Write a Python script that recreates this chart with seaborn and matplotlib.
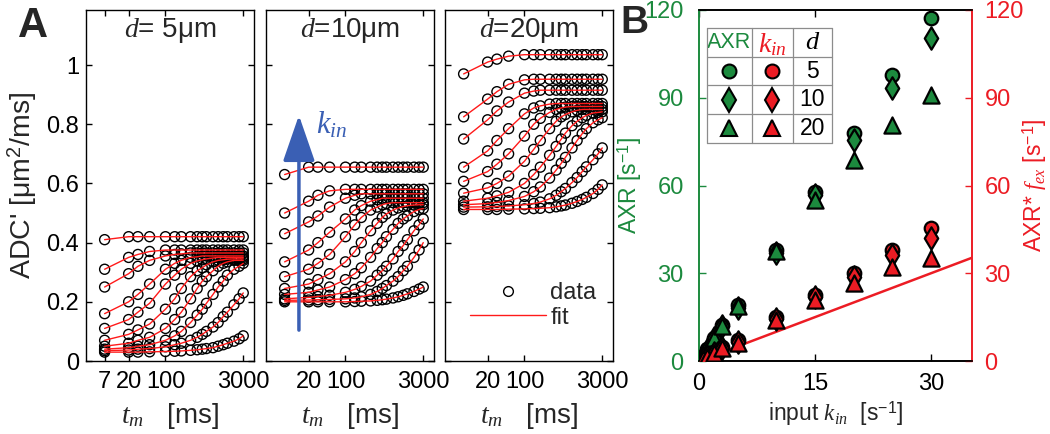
import matplotlib
matplotlib.use("Agg")
import matplotlib.pyplot as plt
import seaborn as sns
import pandas as pd
from matplotlib.lines import Line2D
from matplotlib.ticker import NullLocator, FixedLocator, FixedFormatter

# ---------------- data ----------------
TM = [7, 20, 30, 50, 100, 150, 200, 300, 400, 500, 600, 800, 1000, 1250, 1500, 2000, 2500, 3000]

ADC_D5 = [
    [0.41, 0.42, 0.42, 0.42, 0.42, 0.42, 0.42, 0.42, 0.42, 0.42, 0.42, 0.42, 0.42, 0.42, 0.42, 0.42, 0.42, 0.42],
    [0.31, 0.35, 0.36, 0.37, 0.375, 0.375, 0.375, 0.375, 0.375, 0.375, 0.375, 0.375, 0.375, 0.375, 0.375, 0.375, 0.375, 0.375],
    [0.25, 0.295, 0.32, 0.34, 0.355, 0.36, 0.362, 0.365, 0.365, 0.365, 0.365, 0.365, 0.365, 0.365, 0.365, 0.365, 0.365, 0.365],
    [0.16, 0.20, 0.225, 0.26, 0.31, 0.33, 0.34, 0.35, 0.352, 0.355, 0.355, 0.355, 0.355, 0.355, 0.355, 0.355, 0.355, 0.355],
    [0.11, 0.14, 0.165, 0.195, 0.26, 0.29, 0.31, 0.33, 0.338, 0.342, 0.345, 0.348, 0.35, 0.35, 0.35, 0.35, 0.35, 0.35],
    [0.07, 0.09, 0.105, 0.125, 0.175, 0.21, 0.245, 0.285, 0.305, 0.315, 0.325, 0.335, 0.34, 0.342, 0.344, 0.345, 0.345, 0.345],
    [0.05, 0.06, 0.07, 0.08, 0.11, 0.14, 0.165, 0.21, 0.245, 0.27, 0.285, 0.305, 0.32, 0.33, 0.335, 0.34, 0.34, 0.34],
    [0.04, 0.045, 0.05, 0.055, 0.07, 0.085, 0.10, 0.13, 0.155, 0.175, 0.195, 0.225, 0.25, 0.27, 0.29, 0.31, 0.32, 0.33],
    [0.035, 0.037, 0.04, 0.042, 0.048, 0.055, 0.06, 0.07, 0.08, 0.09, 0.10, 0.115, 0.13, 0.15, 0.165, 0.19, 0.21, 0.23],
    [0.03, 0.03, 0.03, 0.031, 0.032, 0.033, 0.034, 0.036, 0.038, 0.04, 0.042, 0.045, 0.05, 0.055, 0.06, 0.067, 0.075, 0.085],
]

ADC_D10 = [
    [0.63, 0.655, 0.655, 0.655, 0.655, 0.655, 0.655, 0.655, 0.655, 0.655, 0.655, 0.655, 0.655, 0.655, 0.655, 0.655, 0.655, 0.655],
    [0.50, 0.54, 0.56, 0.575, 0.58, 0.58, 0.58, 0.58, 0.58, 0.58, 0.58, 0.58, 0.58, 0.58, 0.58, 0.58, 0.58, 0.58],
    [0.43, 0.47, 0.49, 0.52, 0.55, 0.56, 0.565, 0.565, 0.565, 0.565, 0.565, 0.565, 0.565, 0.565, 0.565, 0.565, 0.565, 0.565],
    [0.335, 0.375, 0.40, 0.435, 0.48, 0.51, 0.525, 0.54, 0.545, 0.55, 0.55, 0.55, 0.55, 0.55, 0.55, 0.55, 0.55, 0.55],
    [0.285, 0.31, 0.33, 0.36, 0.42, 0.46, 0.485, 0.51, 0.52, 0.528, 0.532, 0.535, 0.535, 0.535, 0.535, 0.535, 0.535, 0.535],
    [0.245, 0.26, 0.275, 0.295, 0.335, 0.37, 0.40, 0.44, 0.465, 0.485, 0.497, 0.51, 0.517, 0.522, 0.525, 0.527, 0.528, 0.528],
    [0.225, 0.232, 0.24, 0.25, 0.275, 0.295, 0.315, 0.35, 0.38, 0.40, 0.42, 0.445, 0.465, 0.48, 0.49, 0.505, 0.512, 0.515],
    [0.21, 0.215, 0.218, 0.222, 0.232, 0.242, 0.252, 0.27, 0.29, 0.305, 0.32, 0.345, 0.37, 0.39, 0.41, 0.44, 0.46, 0.48],
    [0.205, 0.206, 0.207, 0.208, 0.21, 0.213, 0.217, 0.225, 0.235, 0.245, 0.255, 0.27, 0.285, 0.305, 0.32, 0.35, 0.375, 0.40],
    [0.20, 0.20, 0.20, 0.20, 0.20, 0.201, 0.202, 0.203, 0.205, 0.207, 0.209, 0.213, 0.217, 0.222, 0.227, 0.235, 0.243, 0.25],
]

ADC_D20 = [
    [0.97, 1.01, 1.02, 1.03, 1.035, 1.035, 1.035, 1.035, 1.035, 1.035, 1.035, 1.035, 1.035, 1.035, 1.035, 1.035, 1.035, 1.035],
    [0.825, 0.885, 0.91, 0.935, 0.95, 0.952, 0.952, 0.952, 0.952, 0.952, 0.952, 0.952, 0.952, 0.952, 0.952, 0.952, 0.952, 0.952],
    [0.75, 0.815, 0.845, 0.875, 0.905, 0.912, 0.915, 0.915, 0.915, 0.915, 0.915, 0.915, 0.915, 0.915, 0.915, 0.915, 0.915, 0.915],
    [0.655, 0.71, 0.745, 0.785, 0.835, 0.855, 0.862, 0.868, 0.87, 0.87, 0.87, 0.87, 0.87, 0.87, 0.87, 0.87, 0.87, 0.87],
    [0.607, 0.64, 0.665, 0.70, 0.76, 0.80, 0.82, 0.84, 0.85, 0.855, 0.858, 0.86, 0.86, 0.86, 0.86, 0.86, 0.86, 0.86],
    [0.567, 0.585, 0.60, 0.625, 0.675, 0.715, 0.745, 0.785, 0.81, 0.825, 0.833, 0.842, 0.847, 0.85, 0.85, 0.85, 0.85, 0.85],
    [0.54, 0.55, 0.558, 0.57, 0.60, 0.63, 0.655, 0.695, 0.725, 0.75, 0.77, 0.795, 0.81, 0.822, 0.83, 0.838, 0.84, 0.842],
    [0.528, 0.532, 0.536, 0.542, 0.556, 0.572, 0.588, 0.618, 0.645, 0.668, 0.688, 0.72, 0.745, 0.768, 0.785, 0.805, 0.815, 0.822],
    [0.52, 0.521, 0.522, 0.524, 0.528, 0.532, 0.537, 0.548, 0.56, 0.572, 0.583, 0.603, 0.62, 0.64, 0.656, 0.68, 0.70, 0.72],
    [0.512, 0.512, 0.512, 0.513, 0.514, 0.515, 0.516, 0.518, 0.521, 0.524, 0.527, 0.533, 0.539, 0.546, 0.553, 0.566, 0.58, 0.595],
]

PANEL_D = [5, 10, 20]
PANEL_TITLES = ["$d$= 5μm", "$d$=10μm", "$d$=20μm"]

KIN = [0.1, 0.2, 0.5, 1, 2, 3, 5, 10, 15, 20, 25, 30]
AXR_D5 = [0.4, 0.8, 2.0, 4.0, 8.0, 12.3, 19.0, 38.0, 57.8, 77.8, 97.8, 117.2]
AXR_D10 = [0.4, 0.8, 2.0, 3.9, 7.8, 11.8, 18.0, 37.0, 56.8, 75.6, 93.2, 110.3]
AXR_D20 = [0.4, 0.8, 2.0, 3.9, 7.8, 12.0, 18.8, 37.5, 55.0, 68.7, 80.7, 90.9]
AXRF_D5 = [0.15, 0.3, 0.75, 1.5, 3.0, 4.8, 7.2, 15.1, 22.6, 30.0, 38.0, 45.4]
AXRF_D10 = [0.15, 0.3, 0.7, 1.4, 2.9, 4.5, 6.6, 14.5, 22.0, 28.8, 36.2, 42.0]
AXRF_D20 = [0.15, 0.3, 0.7, 1.4, 2.8, 4.3, 6.2, 14.0, 20.9, 26.6, 32.2, 35.1]

# ---------------- style ----------------
sns.set_theme(style="ticks")
plt.rcParams["font.family"] = ["Liberation Sans", "DejaVu Sans"]
plt.rcParams["mathtext.fontset"] = "custom"
plt.rcParams["mathtext.it"] = "Liberation Serif:italic"
plt.rcParams["mathtext.rm"] = "Liberation Sans"
plt.rcParams["axes.linewidth"] = 1.0

GREEN = "#1c8a3e"
RED = "#ec1c24"
BLUE = "#3a5fb4"
FS_TICK = 17
FS_LAB = 20
FS_BLAB = 16.5

W, H = 1050, 434
fig = plt.figure(figsize=(W / 100, H / 100), dpi=100)


def rect(l, t, r, b):
    return [l / W, 1 - b / H, (r - l) / W, (b - t) / H]


axA = [fig.add_axes(rect(86, 10, 254, 361)),
       fig.add_axes(rect(266, 10, 434, 361)),
       fig.add_axes(rect(445, 10, 613, 361))]

for i, (ax, adc) in enumerate(zip(axA, [ADC_D5, ADC_D10, ADC_D20])):
    rows = [(t, v, k) for k, row in enumerate(adc) for t, v in zip(TM, row)]
    df = pd.DataFrame(rows, columns=["tm", "adc", "curve"])
    sns.scatterplot(data=df, x="tm", y="adc", marker="o", s=52, facecolor="none",
                    edgecolor="black", linewidth=1.0, ax=ax, legend=False, zorder=2)
    sns.lineplot(data=df, x="tm", y="adc", units="curve", estimator=None, color="#ff1a1a",
                 lw=1.0, ax=ax, legend=False, zorder=3)
    ax.set_xscale("log")
    ax.set_xlim(3.1, 4800)
    ax.set_ylim(0, 1.186)
    ticks = [7, 20, 100, 3000] if i == 0 else [20, 100, 3000]
    ax.xaxis.set_major_locator(FixedLocator(ticks))
    ax.xaxis.set_major_formatter(FixedFormatter([str(t) for t in ticks]))
    ax.xaxis.set_minor_locator(NullLocator())
    ax.set_yticks([0, 0.2, 0.4, 0.6, 0.8, 1.0])
    if i == 0:
        ax.set_yticklabels(["0", "0.2", "0.4", "0.6", "0.8", "1"])
        ax.set_ylabel("ADC' [μm$^{\\mathregular{2}}$/ms]", fontsize=20.5, labelpad=5)
    else:
        ax.set_yticklabels([])
        ax.set_ylabel("")
    ax.tick_params(which="both", direction="in", top=True, right=True, length=4,
                   width=1, labelsize=FS_TICK, colors="black")
    ax.tick_params(axis="x", pad=7)
    ax.tick_params(axis="y", pad=5)
    ax.set_xlabel("$t_m$   [ms]", fontsize=FS_LAB, labelpad=6)
    for sp in ax.spines.values():
        sp.set_color("black")
        sp.set_linewidth(1.0)
    ax.text(0.5, 0.943, PANEL_TITLES[i], transform=ax.transAxes, ha="center",
            va="center", fontsize=FS_LAB)

# kin arrow in panel 2
axA[1].annotate("", xy=(0.196, 0.70), xytext=(0.196, 0.088), xycoords="axes fraction",
                arrowprops=dict(arrowstyle="-|>,head_length=1.3,head_width=0.45",
                                color=BLUE, lw=2.5, mutation_scale=22, shrinkA=0, shrinkB=0))
axA[1].text(0.30, 0.672, "$k_{in}$", transform=axA[1].transAxes, color=BLUE,
            fontsize=22, ha="left", va="center")

# data / fit legend in panel 3
handles = [Line2D([], [], marker="o", ls="", mfc="none", mec="black", ms=7, mew=1.0),
           Line2D([], [], color="#ff1a1a", lw=1.0)]
axA[2].legend(handles, ["data", "fit"], loc="lower right", bbox_to_anchor=(1.0, 0.045),
              frameon=False, fontsize=FS_TICK, handlelength=3.2, handletextpad=0.2,
              labelspacing=0.1, borderaxespad=0.3)

# ---------------- panel B ----------------
axB = fig.add_axes(rect(699, 10, 972, 361))
axB2 = axB.twinx()

green_sets = [AXR_D5, AXR_D10, AXR_D20]
red_sets = [AXRF_D5, AXRF_D10, AXRF_D20]
markers = ["o", "d", "^"]
sizes = [95, 130, 135]

for vals, m, s in zip(green_sets, markers, sizes):
    sns.scatterplot(x=KIN, y=vals, marker=m, s=s, color=GREEN, edgecolor="black",
                    linewidth=1.6, ax=axB, legend=False, zorder=3)
axB2.axline((0, 0), slope=1, color=RED, lw=1.8, zorder=1)
for vals, m, s in zip(red_sets, markers, sizes):
    sns.scatterplot(x=KIN, y=vals, marker=m, s=s, color=RED, edgecolor="black",
                    linewidth=1.6, ax=axB2, legend=False, zorder=3)

for a in (axB, axB2):
    a.set_xlim(0, 35.3)
    a.set_ylim(0, 120)
    a.set_yticks([0, 30, 60, 90, 120])
    a.spines["left"].set_color(GREEN)
    a.spines["right"].set_color(RED)
    a.spines["top"].set_color("black")
    a.spines["bottom"].set_color("black")
    for sp in a.spines.values():
        sp.set_linewidth(1.2)

axB.set_xticks([0, 15, 30])
axB.set_xticklabels(["0", "15", "30"])
axB.tick_params(axis="x", direction="in", top=True, length=5, width=1, labelsize=FS_TICK,
                pad=9, colors="black")
axB.tick_params(axis="y", direction="in", left=True, right=False, length=5, width=1,
                labelsize=FS_TICK, colors=GREEN, pad=11)
axB2.tick_params(axis="y", direction="in", right=True, left=False, length=5, width=1,
                 labelsize=FS_TICK, colors=RED, pad=9)
axB.set_xlabel("input $k_{in}$  [s$^{\\mathregular{-1}}$]", fontsize=FS_BLAB, labelpad=3)
axB.set_ylabel("AXR [s$^{\\mathregular{-1}}$]", fontsize=FS_BLAB, color=GREEN, labelpad=0)
axB2.set_ylabel("AXR* $f_{ex}$ [s$^{\\mathregular{-1}}$]", fontsize=FS_BLAB, color=RED)
axB2.yaxis.set_label_coords(1.178, 0.5)

# legend table in panel B
tr = axB2.transAxes
xs = [0.029, 0.194, 0.344, 0.487]
ys = [0.949, 0.866, 0.786, 0.704, 0.621]
for y in ys:
    axB2.plot([xs[0], xs[-1]], [y, y], color="#8c8c8c", lw=0.9, transform=tr, zorder=5)
for x in xs:
    axB2.plot([x, x], [ys[-1], ys[0]], color="#8c8c8c", lw=0.9, transform=tr, zorder=5)
cx = [(xs[j] + xs[j + 1]) / 2 for j in range(3)]
cy = [(ys[j] + ys[j + 1]) / 2 for j in range(4)]
axB2.text(cx[0], cy[0], "AXR", color=GREEN, fontsize=15.5, ha="center", va="center", transform=tr)
axB2.text(cx[1], cy[0] - 0.005, "$k_{in}$", color=RED, fontsize=20, ha="center", va="center", transform=tr)
axB2.text(cx[2], cy[0], "$d$", color="black", fontsize=19, ha="center", va="center", transform=tr)
for r, (d, m) in enumerate(zip(PANEL_D, markers)):
    ms = {"o": 10, "d": 12, "^": 12}[m]
    axB2.plot([cx[0]], [cy[r + 1]], marker=m, ms=ms, mfc=GREEN, mec="black", mew=1.5,
              transform=tr, zorder=6)
    axB2.plot([cx[1]], [cy[r + 1]], marker=m, ms=ms, mfc=RED, mec="black", mew=1.5,
              transform=tr, zorder=6)
    axB2.text(cx[2], cy[r + 1], str(d), color="black", fontsize=16.5, ha="center",
              va="center", transform=tr)

fig.text(18 / W, 1 - 6 / H, "A", fontsize=30, fontweight="bold", ha="left", va="top")
fig.text(620 / W, 1 - 5 / H, "B", fontsize=28, fontweight="bold", ha="left", va="top")

fig.savefig("out.png", dpi=100)
